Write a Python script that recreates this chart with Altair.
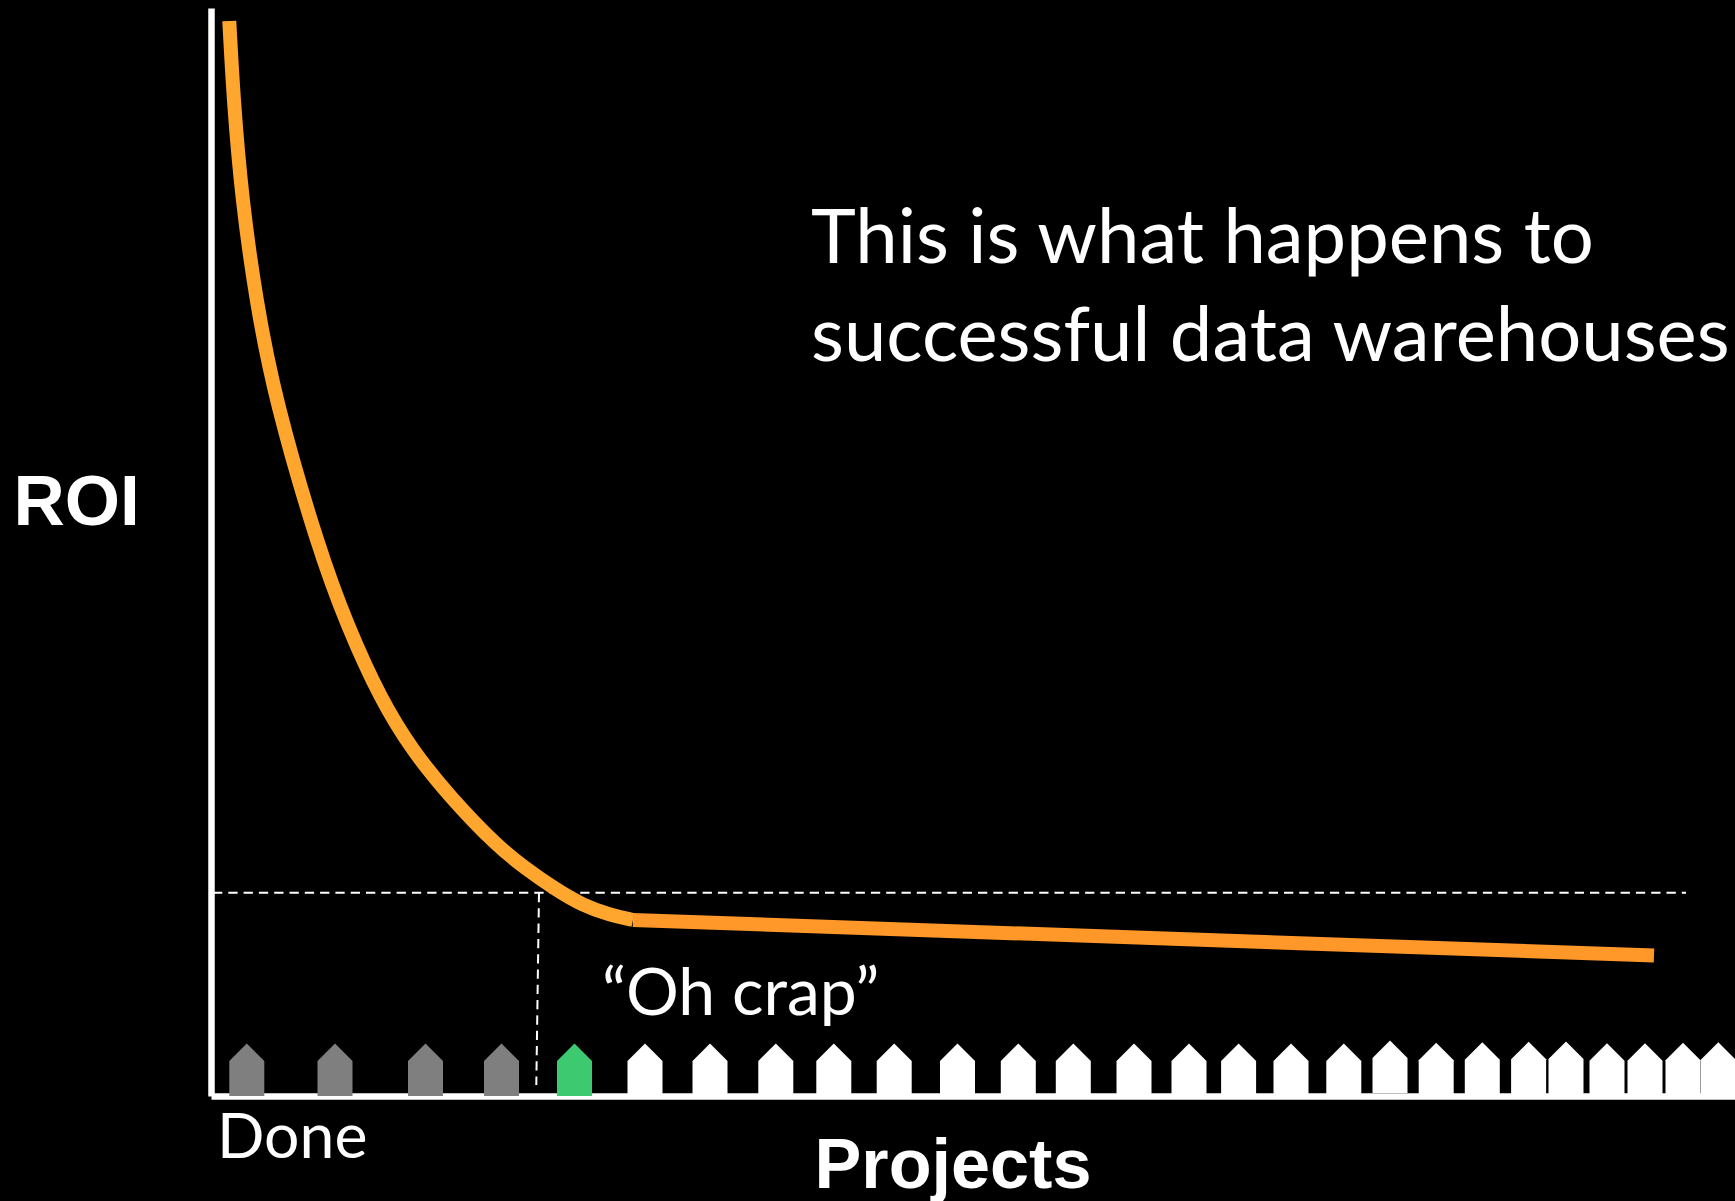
import altair as alt
import pandas as pd

# x = distance along the Projects axis, y = height above it.
X_MAX, Y_MAX = 1524, 1088
LEFT, BASE = 211, 1096

curve_px_x = [229.3, 233.5, 242, 256, 275, 319, 347, 381, 412, 450, 497, 525, 555, 583, 610, 633]
curve_px_y = [21, 100, 200, 300, 400, 550, 625, 700, 750, 797, 846, 868, 889, 905.5, 915, 920]
flat_px_x = [633, 1654]
flat_px_y = [920, 955.5]

house_px_x = [246.8, 335, 425.5, 501.5, 574.5, 645, 710, 775.8, 833.8, 894.2, 957.5, 1018.3, 1073.3, 1134,
              1189, 1238.6, 1291, 1343.8, 1390, 1436.2, 1482.3, 1528.6, 1566, 1607, 1645, 1683, 1718.3]
house_lift = [0] * 18 + [3, 0.7, 1.3, 1.7, 2, 0.3, 0.3, 0.7, 1.3]
house_status = ["done"] * 4 + ["current"] + ["todo"] * 22

threshold_px_x = [213, 1686]
threshold_px_y = [892.7, 892.7]
drop_px_x = [539, 536.3]
drop_px_y = [893, 1085]

labels = ["This is what happens to", "successful data warehouses", "“Oh crap”", "Done"]
label_px_x = [811, 811, 602, 217]
label_px_y = [262.7, 360.7, 1015, 1158.3]
label_size = [76, 76, 66, 62.5]

STATUS_COLORS = {"done": "#7F7F7F", "current": "#3DC96F", "todo": "#FFFFFF"}
HOUSE = "M-1,0L-1,-2L0,-3L1,-2L1,0Z"
TEXT_FONT = "Lato"
BOLD_FONT = "Liberation Sans"
PAGE_STYLE = "html,body{margin:0;padding:0;background:#000;overflow:hidden}"


def frame(xs, ys):
    return pd.DataFrame({"x": [v - LEFT for v in xs], "y": [BASE - v for v in ys], "o": range(len(xs))})


x_scale = alt.Scale(domain=[0, X_MAX], nice=False, zero=False)
y_scale = alt.Scale(domain=[0, Y_MAX], nice=False, zero=False)
X = alt.X("x:Q", scale=x_scale, axis=alt.Axis(
    title="Projects", ticks=False, labels=False, grid=False,
    domainColor="#FFFFFF", domainWidth=6.5,
    titleColor="#FFFFFF", titleFont=BOLD_FONT, titleFontWeight="bold", titleFontSize=70.2,
    titleAngle=0, titleAlign="left", titleBaseline="alphabetic", titleX=603, titleY=91))
Y = alt.Y("y:Q", scale=y_scale, axis=alt.Axis(
    title="ROI", ticks=False, labels=False, grid=False,
    domainColor="#FFFFFF", domainWidth=6.5,
    titleColor="#FFFFFF", titleFont=BOLD_FONT, titleFontWeight="bold", titleFontSize=71,
    titleAngle=0, titleAlign="left", titleBaseline="alphabetic", titleX=-198, titleY=516))

threshold = alt.Chart(frame(threshold_px_x, threshold_px_y)).mark_line(
    color="#FFFFFF", strokeWidth=2, strokeDash=[9.3, 6]).encode(x=X, y=Y)
drop = alt.Chart(frame(drop_px_x, drop_px_y)).mark_line(
    color="#FFFFFF", strokeWidth=2, strokeDash=[9.3, 6]).encode(x=X, y=Y, order=alt.Order("o:Q"))

curve = alt.Chart(frame(curve_px_x, curve_px_y)).mark_line(
    color="#FFA62F", strokeWidth=14, interpolate="basis", strokeCap="butt").encode(
    x=X, y=Y, order=alt.Order("o:Q"))
flat = alt.Chart(frame(flat_px_x, flat_px_y)).mark_line(
    color="#FF9729", strokeWidth=14, strokeCap="butt").encode(x=X, y=Y)

houses_df = pd.DataFrame({
    "x": [v - LEFT for v in house_px_x],
    "y": house_lift,
    "status": house_status,
})
houses = alt.Chart(houses_df).mark_point(
    shape=HOUSE, filled=True, size=1225, strokeWidth=0, opacity=1).encode(
    x=X, y=Y,
    color=alt.Color("status:N", legend=None, scale=alt.Scale(
        domain=list(STATUS_COLORS), range=list(STATUS_COLORS.values()))))

text_df = frame(label_px_x, label_px_y).assign(label=labels, size=label_size)
texts = alt.Chart(text_df).mark_text(
    align="left", baseline="alphabetic", color="#FFFFFF", font=TEXT_FONT).encode(
    x=X, y=Y, text="label:N", size=alt.Size("size:Q", scale=None, legend=None))

chart = alt.layer(threshold, drop, curve, flat, houses, texts).properties(
    width=X_MAX, height=Y_MAX,
    padding={"left": LEFT, "top": 8, "right": 0, "bottom": 105},
    autosize=alt.AutoSizeParams(type="none"),
    background="#000000",
).configure_view(stroke=None)

chart.save("out.html", embed_options={"renderer": "svg", "actions": False, "defaultStyle": PAGE_STYLE})
